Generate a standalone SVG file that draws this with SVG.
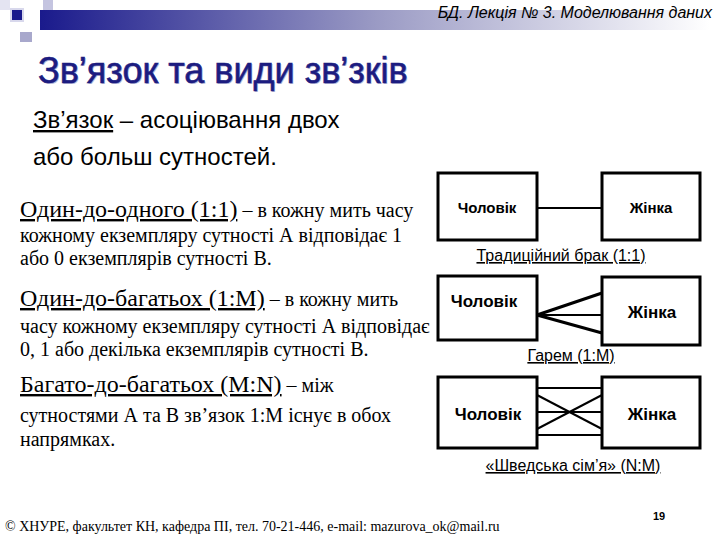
<svg xmlns="http://www.w3.org/2000/svg" width="720" height="540" viewBox="0 0 720 540">
<defs>
<linearGradient id="bar" x1="0" y1="0" x2="1" y2="0">
<stop offset="0" stop-color="#1a1a8c"/>
<stop offset="0.5" stop-color="#9a9ac4"/>
<stop offset="1" stop-color="#ffffff"/>
</linearGradient>
<style>
.box{fill:#fff;stroke:#000;stroke-width:3}
.nt{font-family:"Liberation Sans",Arial,sans-serif;font-weight:bold;font-size:15px;text-anchor:middle}
.nt2{font-size:17px}
.lbl{font-family:"Liberation Sans",Arial,sans-serif;font-size:16px;text-anchor:middle;text-decoration:underline}
.ln{stroke:#000;stroke-width:2;fill:none}
.ln3{stroke:#000;stroke-width:3;fill:none}
.sans{font-family:"Liberation Sans",Arial,sans-serif}
.ser{font-family:"Liberation Serif","Times New Roman",serif}
</style>
</defs>
<rect width="720" height="540" fill="#fff"/>
<!-- header decoration -->
<rect x="0" y="0" width="10" height="10" fill="#e4e4f2"/>
<rect x="43" y="0" width="10" height="20" fill="#c4c4e0"/>
<rect x="40" y="10" width="670" height="20" fill="url(#bar)"/>
<rect x="10" y="8" width="14" height="14" fill="#d8d8ec"/>
<rect x="12" y="10" width="10" height="10" fill="#1a1a8c"/>
<rect x="20" y="32" width="12" height="10" fill="#a8a8cc"/>
<text x="712" y="18" class="sans" font-size="16" font-style="italic" text-anchor="end">БД. Лекція № 3. Моделювання даних</text>
<!-- title -->
<text x="39" y="84" class="sans" font-size="36" fill="#b8b8d8">Зв’язок та види зв’зків</text>
<text x="38" y="83" class="sans" font-size="36" fill="#1c1c80" stroke="#1c1c80" stroke-width="0.6">Зв’язок та види зв’зків</text>
<text x="33" y="128" class="sans" font-size="24"><tspan text-decoration="underline">Зв’язок</tspan> – асоціювання двох</text>
<text x="33" y="165" class="sans" font-size="24">або больш сутностей.</text>
<!-- left texts -->
<text x="20" y="217" class="ser" font-size="24"><tspan text-decoration="underline">Один-до-одного (1:1)</tspan><tspan font-size="20"> – в кожну мить часу</tspan></text>
<text x="20" y="242" class="ser" font-size="20">кожному екземпляру сутності А відповідає 1</text>
<text x="20" y="265" class="ser" font-size="20">або 0 екземплярів сутності В.</text>
<text x="20" y="306" class="ser" font-size="24"><tspan text-decoration="underline">Один-до-багатьох (1:М)</tspan><tspan font-size="20"> – в кожну мить</tspan></text>
<text x="20" y="333" class="ser" font-size="20">часу кожному екземпляру сутності А відповідає</text>
<text x="20" y="356" class="ser" font-size="20">0, 1 або декілька екземплярів сутності В.</text>
<text x="20" y="392" class="ser" font-size="24"><tspan text-decoration="underline">Багато-до-багатьох (M:N)</tspan><tspan font-size="20"> – між</tspan></text>
<text x="20" y="422" class="ser" font-size="20">сутностями А та В зв’язок 1:М існує в обох</text>
<text x="20" y="446" class="ser" font-size="20">напрямках.</text>
<!-- connectors -->
<g id="connectors">
<line class="ln" x1="537" y1="208" x2="602" y2="208"/>
<line class="ln3" x1="537" y1="315" x2="602" y2="293"/>
<line class="ln" x1="537" y1="315" x2="602" y2="315"/>
<line class="ln3" x1="537" y1="315" x2="602" y2="333"/>
<line class="ln" x1="537" y1="388" x2="602" y2="388"/>
<line class="ln" x1="537" y1="412" x2="602" y2="412"/>
<line class="ln" x1="537" y1="435" x2="602" y2="435"/>
<line class="ln" x1="537" y1="395" x2="602" y2="429"/>
<line class="ln" x1="537" y1="429" x2="602" y2="395"/>
</g>
<g id="man1"><rect class="box" x="438" y="173" width="99" height="67"/><text class="nt" x="487" y="213">Чоловік</text></g>
<g id="woman1"><rect class="box" x="602" y="173" width="98" height="67"/><text class="nt" x="651" y="213">Жінка</text></g>
<text class="lbl" x="561" y="261">Традиційний брак (1:1)</text>
<g id="man2"><rect class="box" x="438" y="276" width="99" height="64"/><text class="nt nt2" x="484" y="307">Чоловік</text></g>
<g id="woman2"><rect class="box" x="602" y="277" width="98" height="68"/><text class="nt nt2" x="652" y="318">Жінка</text></g>
<text class="lbl" x="571" y="361">Гарем  (1:М)</text>
<g id="man3"><rect class="box" x="438" y="377" width="99" height="71"/><text class="nt nt2" x="488" y="420">Чоловік</text></g>
<g id="woman3"><rect class="box" x="602" y="377" width="98" height="71"/><text class="nt nt2" x="652" y="420">Жінка</text></g>
<text class="lbl" x="573" y="471">«Шведська сім’я» (N:M)</text>
<!-- footer -->
<text x="5" y="531" class="ser" font-size="14">© ХНУРЕ, факультет КН, кафедра ПІ, тел. 70-21-446, e-mail: mazurova_ok@mail.ru</text>
<text x="659" y="520" class="sans" font-size="11" font-weight="bold" text-anchor="middle">19</text>
</svg>
